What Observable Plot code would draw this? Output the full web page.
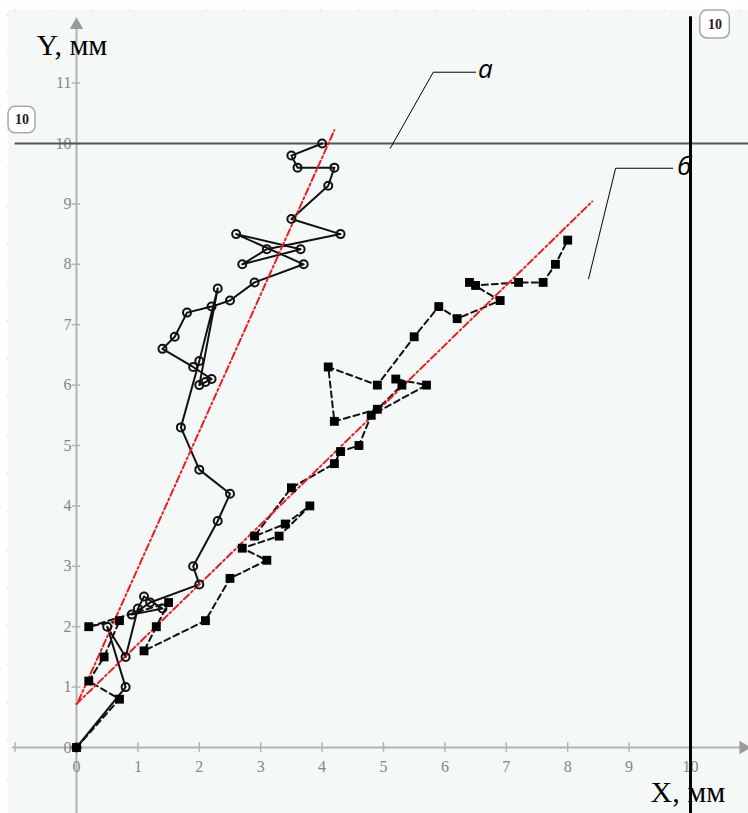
<!DOCTYPE html>
<html>
<head>
<meta charset="utf-8">
<script src="https://cdn.jsdelivr.net/npm/d3@7"></script>
<script src="https://cdn.jsdelivr.net/npm/@observablehq/plot@0.6"></script>
<style>
  html, body { margin: 0; padding: 0; background: #ffffff; }
  #chart { position: relative; width: 748px; height: 813px; overflow: hidden; }
  #chart svg { display: block; }
</style>
</head>
<body>
<div id="chart"></div>
<script>
// ---- data ----
const xTicks = [0, 1, 2, 3, 4, 5, 6, 7, 8, 9, 10];
const yTicks = [0, 1, 2, 3, 4, 5, 6, 7, 8, 9, 10, 11];
const xTickMarks = [-1, 0, 1, 2, 3, 4, 5, 6, 7, 8, 9, 10];
const yTickMarks = [0, 1, 2, 3, 4, 5, 6, 7, 8, 9, 10, 11];

// trajectory "а" (solid line, open circles)
const pathA = [
  [0, 0], [0.8, 1.0], [0.5, 2.0], [0.8, 1.5], [1.0, 2.3], [1.1, 2.5], [1.4, 2.3],
  [0.9, 2.2], [1.2, 2.4], [2.0, 2.7], [1.9, 3.0], [2.3, 3.75], [2.5, 4.2], [2.0, 4.6],
  [1.7, 5.3], [2.0, 6.4], [2.3, 7.6], [2.0, 6.0], [2.1, 6.05], [2.2, 6.1], [1.9, 6.3],
  [1.4, 6.6], [1.6, 6.8], [1.8, 7.2], [2.2, 7.3], [2.5, 7.4], [2.9, 7.7], [3.7, 8.0],
  [2.6, 8.5], [3.65, 8.25], [2.7, 8.0], [3.1, 8.25], [4.3, 8.5], [3.5, 8.75], [4.1, 9.3],
  [4.2, 9.6], [3.6, 9.6], [3.5, 9.8], [4.0, 10.0]
];

// trajectory "б" (dashed line, filled squares)
const pathB = [
  [0, 0], [0.7, 0.8], [0.2, 1.1], [0.45, 1.5], [0.7, 2.1], [0.2, 2.0], [1.5, 2.4],
  [1.3, 2.0], [1.1, 1.6], [2.1, 2.1], [2.5, 2.8], [3.1, 3.1], [2.7, 3.3], [3.3, 3.5],
  [3.8, 4.0], [3.4, 3.7], [2.9, 3.5], [3.5, 4.3], [4.2, 4.7], [4.3, 4.9], [4.6, 5.0],
  [4.8, 5.5], [5.7, 6.0], [5.2, 6.1], [5.3, 6.0], [4.9, 5.6], [4.2, 5.4], [4.1, 6.3],
  [4.9, 6.0], [5.5, 6.8], [5.9, 7.3], [6.2, 7.1], [6.9, 7.4], [6.4, 7.7], [6.5, 7.65],
  [7.2, 7.7], [7.6, 7.7], [7.8, 8.0], [8.0, 8.4]
];

// linear trend lines (red dash-dot)
const fitA = [[0.03, 0.77], [4.2, 10.22]];
const fitB = [[0.0, 0.72], [8.4, 9.04]];

// reference lines
const refY = [10];
const refX = [10];

// annotation leaders and labels
const leaderA = [[5.11, 9.92], [5.81, 11.18], [6.5, 11.18]];
const leaderB = [[8.34, 7.76], [8.78, 9.59], [9.71, 9.59]];
const labels = [
  {x: 6.66, y: 11.22, text: "а"},
  {x: 9.9, y: 9.62, text: "б"}
];
const boxes = [
  {x1: -1.107, x2: -0.667, y1: 10.17, y2: 10.61, text: "10"},
  {x1: 10.16, x2: 10.64, y1: 11.74, y2: 12.2, text: "10"}
];
const axisTitles = [
  {x: -0.65, y: 11.62, text: "Y, мм"},
  {x: 9.35, y: -0.75, text: "X, мм"}
];

const serif = "'Liberation Serif', 'DejaVu Serif', serif";
const axisColor = "#b3b3b3";

const chart = Plot.plot({
  width: 748,
  height: 813,
  margin: 0,
  x: {domain: [0, 10], range: [76, 690], axis: null},
  y: {domain: [0, 10], range: [747, 143], axis: null},
  style: {background: "#ffffff", overflow: "visible"},
  marks: [
    // worksheet background
    Plot.rect([{}], {x1: -1.107, x2: 11.2, y1: -1.2, y2: 12.2, fill: "#f4f8f6"}),
    // axes
    Plot.ruleY([0], {x1: -1.04, x2: 10.85, stroke: axisColor, strokeWidth: 2}),
    Plot.ruleX([0], {y1: -1.2, y2: 11.95, stroke: axisColor, strokeWidth: 2}),
    Plot.dot([{x: 10.86, y: 0}], {x: "x", y: "y", symbol: "triangle", rotate: 90, r: 5, fill: "#9a9a9a", stroke: null}),
    Plot.dot([{x: 0, y: 11.96}], {x: "x", y: "y", symbol: "triangle", r: 5, fill: "#9a9a9a", stroke: null}),
    Plot.ruleX(xTickMarks, {x: d => d, y1: -0.08, y2: 0.08, stroke: axisColor, strokeWidth: 1.5}),
    Plot.ruleY(yTickMarks, {y: d => d, x1: -0.07, x2: 0.07, stroke: axisColor, strokeWidth: 1.5}),
    Plot.text(xTicks, {x: d => d, y: 0, dy: 19, text: d => String(d), fontSize: 16, fill: "#858585", fontFamily: serif}),
    Plot.text(yTicks, {x: 0, y: d => d, dx: -5, textAnchor: "end", text: d => String(d), fontSize: 16, fill: "#858585", fontFamily: serif}),
    // reference lines
    Plot.ruleY(refY, {y: d => d, x1: -1.0, x2: 11.2, stroke: "#555555", strokeWidth: 2}),
    Plot.ruleX(refX, {x: d => d, y1: -1.2, y2: 12.1, stroke: "#000000", strokeWidth: 3}),
    // trajectories
    Plot.line(pathA, {x: d => d[0], y: d => d[1], stroke: "#111111", strokeWidth: 2, curve: "linear"}),
    Plot.line(pathB, {x: d => d[0], y: d => d[1], stroke: "#111111", strokeWidth: 2, strokeDasharray: "6,4", curve: "linear"}),
    // trend lines
    Plot.line(fitA, {x: d => d[0], y: d => d[1], stroke: "#ee1c25", strokeWidth: 2, strokeDasharray: "7,3,2,3"}),
    Plot.line(fitB, {x: d => d[0], y: d => d[1], stroke: "#ee1c25", strokeWidth: 2, strokeDasharray: "7,3,2,3"}),
    // markers
    Plot.dot(pathA, {x: d => d[0], y: d => d[1], r: 4, stroke: "#111111", strokeWidth: 2, fill: "none"}),
    Plot.dot(pathB, {x: d => d[0], y: d => d[1], symbol: "square", r: 5, fill: "#000000", stroke: null}),
    // annotation leaders
    Plot.line(leaderA, {x: d => d[0], y: d => d[1], stroke: "#000000", strokeWidth: 1}),
    Plot.line(leaderB, {x: d => d[0], y: d => d[1], stroke: "#000000", strokeWidth: 1}),
    Plot.text(labels, {x: "x", y: "y", text: "text", fontSize: 26, fontStyle: "italic", fontFamily: "'Open Sans', 'DejaVu Sans', sans-serif", fill: "#000000"}),
    // boxes with "10"
    Plot.rect(boxes, {x1: "x1", x2: "x2", y1: "y1", y2: "y2", fill: "#ffffff", stroke: "#a8a8a8", strokeWidth: 1.5, rx: 7}),
    Plot.text(boxes, {x: d => (d.x1 + d.x2) / 2, y: d => (d.y1 + d.y2) / 2, text: "text", fontSize: 14, fontWeight: "bold", fontFamily: serif, fill: "#222222"}),
    // axis titles
    Plot.text(axisTitles, {x: "x", y: "y", text: "text", textAnchor: "start", fontSize: 30, fontFamily: serif, fill: "#000000"})
  ]
});

document.getElementById("chart").appendChild(chart);

// decorative worksheet ruler marks (light blue) along top and left edges
const svg = d3.select(chart);
const deco = svg.insert("g", ":nth-child(2)").attr("stroke", "#cfe2f3").attr("stroke-width", 1.5);
for (let x = 15; x < 748; x += 38.2) {
  deco.append("line").attr("x1", x).attr("x2", x).attr("y1", 9).attr("y2", 16);
}
for (let y = 15; y < 813; y += 38.2) {
  deco.append("line").attr("x1", 7).attr("x2", 16).attr("y1", y).attr("y2", y);
}
</script>
</body>
</html>
